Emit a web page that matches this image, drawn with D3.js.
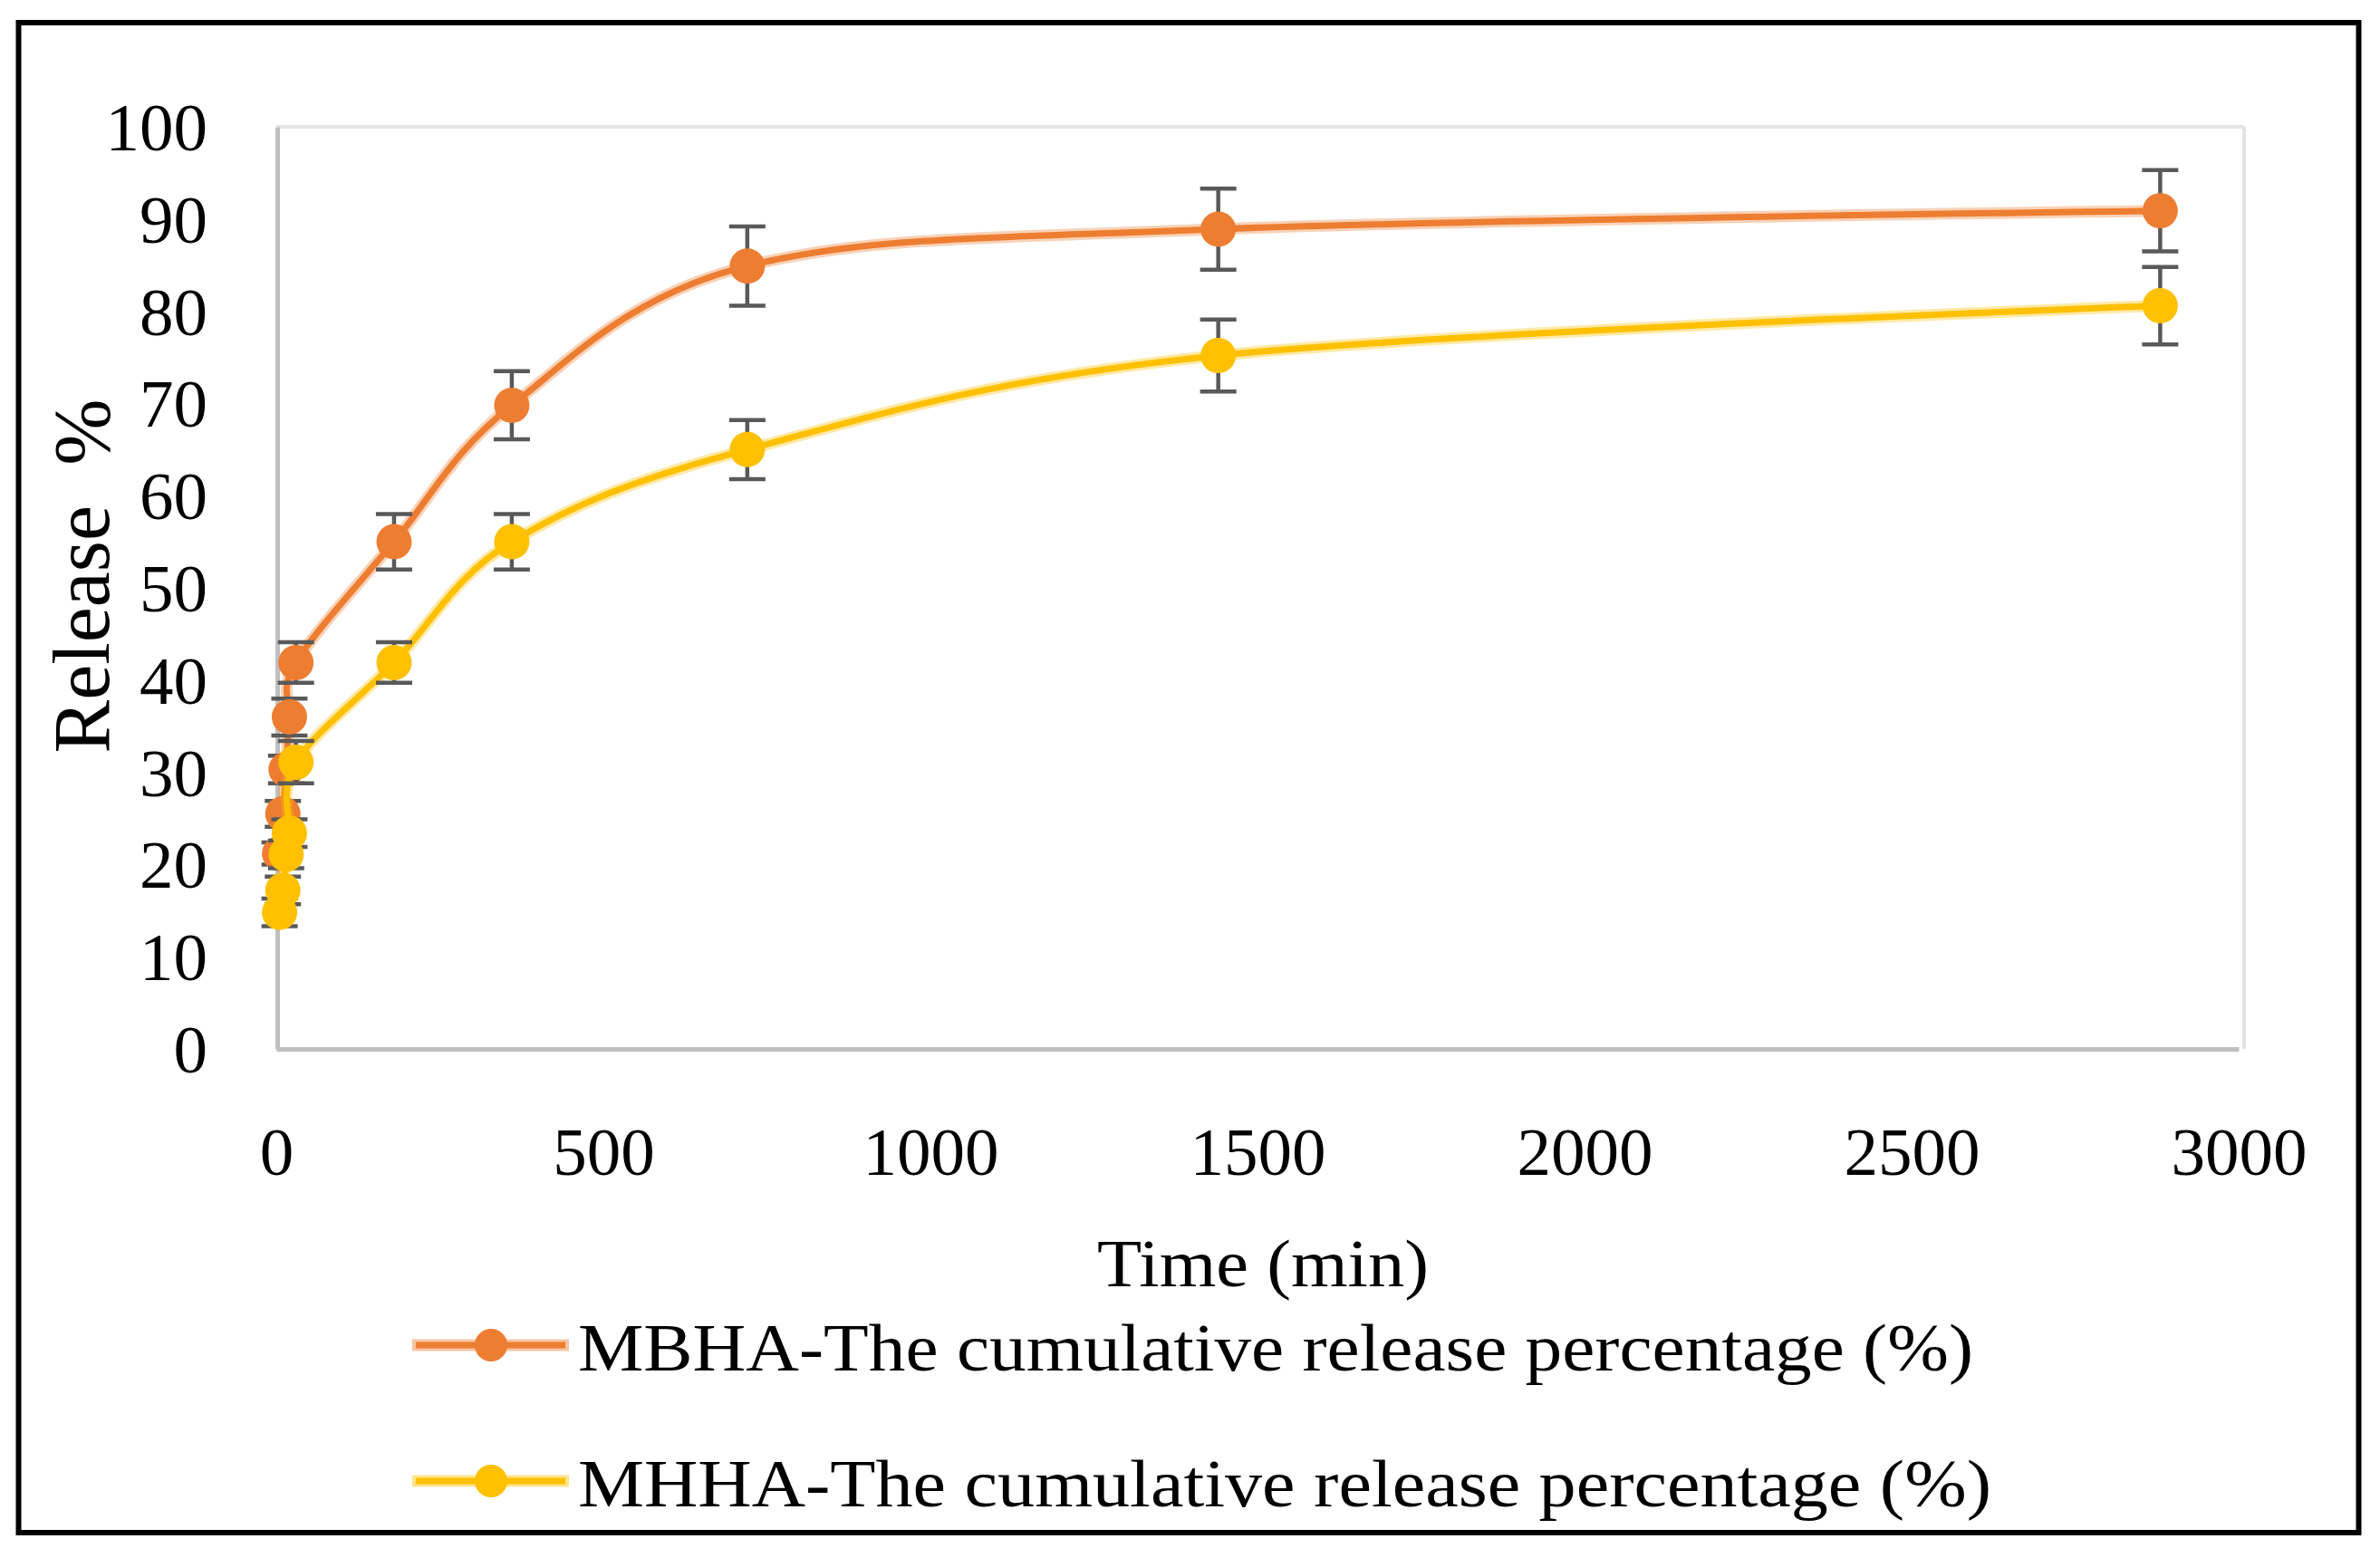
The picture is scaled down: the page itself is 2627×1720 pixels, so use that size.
<!DOCTYPE html>
<html>
<head>
<meta charset="utf-8">
<script src="https://cdn.jsdelivr.net/npm/d3@7"></script>
<style>
  html, body { margin: 0; padding: 0; background: #ffffff; }
  svg { display: block; }
  text { font-family: "Liberation Serif", "Times New Roman", serif; fill: #000; }
</style>
</head>
<body>
<svg id="chart" width="2627" height="1720"></svg>
<script>
// ---- data ----
const times = [5, 10, 15, 20, 30, 180, 360, 720, 1440, 2880];
const mbhaValues = [21.2, 25.5, 30.3, 36.0, 41.9, 55.0, 69.8, 84.9, 88.9, 90.9];
const mbhaErrors = [1.2, 1.4, 1.5, 2.0, 2.2, 3.0, 3.7, 4.3, 4.4, 4.4];
const mhhaValues = [14.8, 17.2, 21.1, 23.4, 31.1, 41.9, 55.0, 65.0, 75.2, 80.6];
const mhhaErrors = [1.5, 1.5, 1.5, 1.5, 2.3, 2.2, 3.0, 3.2, 3.9, 4.2];
const seriesNames = ["MBHA-The cumulative release percentage (%)", "MHHA-The cumulative release percentage (%)"];
const seriesColors = ["#ED7D31", "#FFC000"];
const xTicks = [0, 500, 1000, 1500, 2000, 2500, 3000];
const yTicks = [0, 10, 20, 30, 40, 50, 60, 70, 80, 90, 100];
const xTitle = "Time (min)";
const yTitle = "Release  %";

const series = [
  { name: seriesNames[0], color: seriesColors[0], pts: times.map((t, i) => ({ t, v: mbhaValues[i], e: mbhaErrors[i] })) },
  { name: seriesNames[1], color: seriesColors[1], pts: times.map((t, i) => ({ t, v: mhhaValues[i], e: mhhaErrors[i] })) }
];

const svg = d3.select("#chart");

// outer frame
svg.append("rect").attr("x", 20.5).attr("y", 25).attr("width", 2583).attr("height", 1667)
  .attr("fill", "none").attr("stroke", "#000").attr("stroke-width", 6);

const x = d3.scaleLinear().domain([0, 3000]).range([305, 2471]);
const y = d3.scaleLinear().domain([0, 100]).range([1158, 140]);

// plot-area border (top / right)
svg.append("line").attr("x1", x(0)).attr("x2", 2477).attr("y1", y(100)).attr("y2", y(100))
  .attr("stroke", "#e4e4e4").attr("stroke-width", 4);
svg.append("line").attr("x1", 2477).attr("x2", 2477).attr("y1", y(100)).attr("y2", y(0))
  .attr("stroke", "#e4e4e4").attr("stroke-width", 4);

// axes
const yAxis = d3.axisLeft(y).tickValues(yTicks).tickSize(0).tickPadding(77).tickFormat(d3.format("d"));
const gy = svg.append("g").attr("transform", `translate(${x(0) + 1},0)`).call(yAxis);
gy.select(".domain").attr("stroke", "#bfbfbf").attr("stroke-width", 5);
gy.selectAll("text").attr("font-size", 75).attr("fill", "#000")
  .attr("font-family", "Liberation Serif, serif").attr("dy", "0.34em");

const xAxis = d3.axisBottom(x).tickValues(xTicks).tickSize(0).tickPadding(86).tickFormat(d3.format("d"));
const gx = svg.append("g").attr("transform", `translate(0,${y(0)})`).call(xAxis);
gx.select(".domain").attr("stroke", "#bfbfbf").attr("stroke-width", 5);
gx.selectAll("text").attr("font-size", 75).attr("fill", "#000")
  .attr("font-family", "Liberation Serif, serif");

// titles
svg.append("text").attr("x", 1394).attr("y", 1420).attr("text-anchor", "middle")
  .attr("font-size", 75).attr("textLength", 366).attr("lengthAdjust", "spacingAndGlyphs").text(xTitle);
svg.append("text").attr("transform", "translate(120,636) rotate(-90)").attr("text-anchor", "middle")
  .attr("font-size", 88).style("white-space", "pre").text(yTitle);

// series
const line = d3.line().x(d => x(d.t)).y(d => y(d.v)).curve(d3.curveCardinal.tension(0));

series.forEach(s => {
  const g = svg.append("g");
  g.append("path").datum(s.pts).attr("d", line).attr("fill", "none")
    .attr("stroke", s.color).attr("stroke-opacity", 0.35).attr("stroke-width", 13)
    .attr("stroke-linecap", "round").attr("stroke-linejoin", "round");
  g.append("path").datum(s.pts).attr("d", line).attr("fill", "none")
    .attr("stroke", s.color).attr("stroke-width", 7)
    .attr("stroke-linecap", "round").attr("stroke-linejoin", "round");
  const eb = g.selectAll(".eb").data(s.pts).enter().append("g").attr("class", "eb");
  eb.append("line").attr("x1", d => x(d.t)).attr("x2", d => x(d.t))
    .attr("y1", d => y(d.v + d.e)).attr("y2", d => y(d.v - d.e))
    .attr("stroke", "#595959").attr("stroke-width", 4.5);
  eb.append("line").attr("x1", d => x(d.t) - 20).attr("x2", d => x(d.t) + 20)
    .attr("y1", d => y(d.v + d.e)).attr("y2", d => y(d.v + d.e))
    .attr("stroke", "#595959").attr("stroke-width", 4.5);
  eb.append("line").attr("x1", d => x(d.t) - 20).attr("x2", d => x(d.t) + 20)
    .attr("y1", d => y(d.v - d.e)).attr("y2", d => y(d.v - d.e))
    .attr("stroke", "#595959").attr("stroke-width", 4.5);
  g.selectAll("circle").data(s.pts).enter().append("circle")
    .attr("cx", d => x(d.t)).attr("cy", d => y(d.v)).attr("r", 19.5).attr("fill", s.color);
});

// legend
const legY = [1485, 1635];
const legW = [1540, 1560];
series.forEach((s, i) => {
  const g = svg.append("g").attr("transform", `translate(0,${legY[i]})`);
  g.append("line").attr("x1", 455).attr("x2", 628).attr("y1", 0).attr("y2", 0)
    .attr("stroke", s.color).attr("stroke-opacity", 0.45).attr("stroke-width", 13);
  g.append("line").attr("x1", 459).attr("x2", 624).attr("y1", 0).attr("y2", 0)
    .attr("stroke", s.color).attr("stroke-width", 7);
  g.append("circle").attr("cx", 542).attr("cy", 0).attr("r", 18).attr("fill", s.color);
  g.append("text").attr("x", 638).attr("y", 28).attr("font-size", 75)
    .attr("textLength", legW[i]).attr("lengthAdjust", "spacingAndGlyphs").text(s.name);
});
</script>
</body>
</html>
